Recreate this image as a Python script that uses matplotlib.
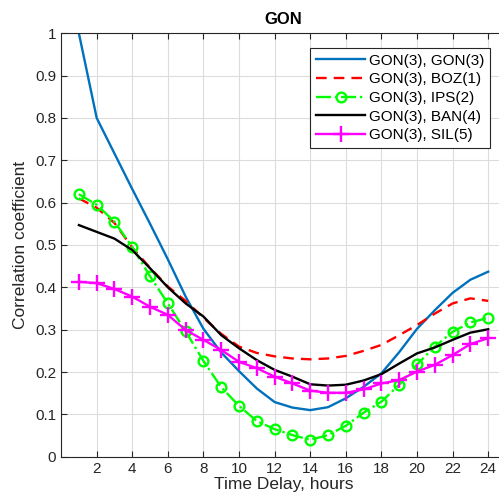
import numpy as np
import matplotlib.pyplot as plt

plt.rcParams['font.family'] = ['Liberation Sans', 'DejaVu Sans']

hours = np.arange(1, 25)

gon_gon = [1.0, 0.80, 0.716, 0.632, 0.550, 0.466, 0.378, 0.302, 0.246, 0.202,
           0.161, 0.129, 0.116, 0.110, 0.117, 0.138, 0.165, 0.197, 0.247, 0.302,
           0.346, 0.387, 0.418, 0.437]
gon_boz = [0.610, 0.588, 0.552, 0.494, 0.446, 0.402, 0.368, 0.328, 0.290, 0.260,
           0.245, 0.237, 0.232, 0.230, 0.232, 0.238, 0.250, 0.264, 0.287, 0.311,
           0.338, 0.362, 0.374, 0.368]
gon_ips = [0.620, 0.595, 0.555, 0.495, 0.426, 0.362, 0.296, 0.226, 0.164, 0.120,
           0.084, 0.065, 0.051, 0.040, 0.051, 0.073, 0.104, 0.130, 0.170, 0.218,
           0.260, 0.295, 0.317, 0.328]
gon_ban = [0.547, 0.531, 0.515, 0.488, 0.445, 0.400, 0.362, 0.331, 0.287, 0.256,
           0.228, 0.205, 0.189, 0.171, 0.168, 0.170, 0.180, 0.195, 0.220, 0.244,
           0.258, 0.276, 0.293, 0.301]
gon_sil = [0.413, 0.410, 0.396, 0.378, 0.354, 0.335, 0.299, 0.276, 0.252, 0.224,
           0.209, 0.189, 0.173, 0.156, 0.151, 0.151, 0.159, 0.173, 0.181, 0.201,
           0.217, 0.240, 0.266, 0.280]

fig = plt.figure(figsize=(4.99, 5.04), dpi=100)
W, H = 499, 504
ax = fig.add_axes([61.1 / W, (H - 456.7) / H, (506 - 61.1) / W, 423.4 / H])

lw = 1.7
ax.plot(hours, gon_gon, color=(0, 0.447, 0.741), lw=lw, label='GON(3), GON(3)')
ax.plot(hours, gon_boz, color='red', lw=lw, dashes=(4.5, 3), label='GON(3), BOZ(1)')
ax.plot(hours, gon_ips, color=(0, 1, 0), lw=lw, linestyle='-.', marker='o',
        markersize=7, markerfacecolor='none', markeredgewidth=lw, label='GON(3), IPS(2)')
ax.plot(hours, gon_ban, color='black', lw=lw, label='GON(3), BAN(4)')
ax.plot(hours, gon_sil, color='magenta', lw=lw, marker='+', markersize=11,
        markeredgewidth=lw, label='GON(3), SIL(5)')

ax.set_xlim(0, 25)
ax.set_ylim(0, 1)
ax.set_xticks(np.arange(2, 25, 2))
ax.set_yticks(np.arange(0, 1.01, 0.1))
ax.set_yticklabels(['0', '0.1', '0.2', '0.3', '0.4', '0.5', '0.6', '0.7', '0.8', '0.9', '1'])
ax.grid(True, color='#dcdcdc', linewidth=0.8)
ax.set_axisbelow(True)
ax.tick_params(direction='in', top=True, right=True, length=4, labelsize=11,
               colors='#262626', width=0.8)
for s in ax.spines.values():
    s.set_color('#262626')
    s.set_linewidth(0.8)

ax.set_xlabel('Time Delay, hours', fontsize=12.5, color='#262626', labelpad=1)
ax.set_ylabel('Correlation coefficient', fontsize=12.5, color='#262626', labelpad=5)
ax.set_title('GON', fontsize=12, fontweight='bold', pad=7)

leg = ax.legend(loc='upper left', bbox_to_anchor=((310 - 61.1) / (506 - 61.1), 1 - (47.7 - 33.3) / 423.4),
                fontsize=11, handlelength=3.2, handletextpad=0.25, labelspacing=0.3,
                borderpad=0.4, borderaxespad=0, fancybox=False, framealpha=1)
leg.get_frame().set_edgecolor('#262626')
leg.get_frame().set_linewidth(0.8)

fig.savefig('out.png', dpi=100)
